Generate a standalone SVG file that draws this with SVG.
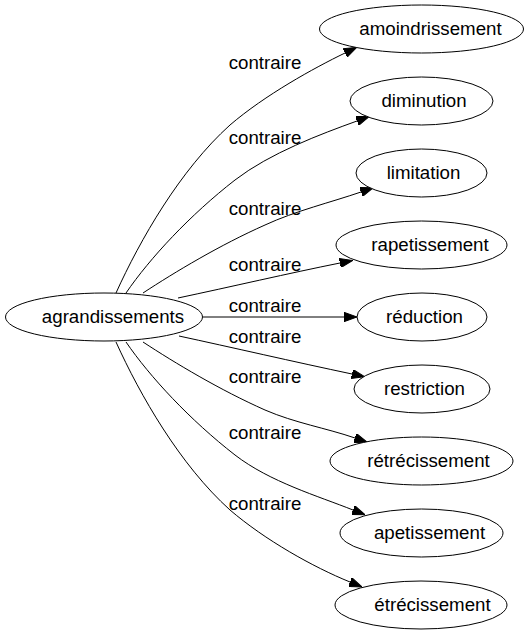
<svg xmlns="http://www.w3.org/2000/svg" width="530" height="635" viewBox="0 0 530 635">
<style>
.node ellipse{fill:#fff;stroke:#000;stroke-width:1}
text{font-family:"Liberation Sans",Arial,sans-serif;font-size:18.7px;fill:#000;text-anchor:middle}
.edge path{fill:none;stroke:#000;stroke-width:1}
</style>
<defs>
<marker id="arr" markerUnits="userSpaceOnUse" viewBox="0 0 13 9.4" markerWidth="13" markerHeight="9.4" refX="0" refY="4.7" orient="auto">
<path d="M0,0 L13,4.7 L0,9.4 z" fill="#000" stroke="#000" stroke-width="1"/>
</marker>
</defs>
<rect width="530" height="635" fill="#fff"/>
<g id="edges" class="edge">
<path marker-end="url(#arr)" d="M116,293 C140,240 180,170 230,125 C265,95 314,68 345,53"/>
<path marker-end="url(#arr)" d="M126,293 C150,258 190,215 235,180 C270,153 321,134 357,121"/>
<path marker-end="url(#arr)" d="M143,293 C175,272 220,245 265,225 C295,211 332,202 361,192"/>
<path marker-end="url(#arr)" d="M178,298 C230,287 290,273 340,263"/>
<path marker-end="url(#arr)" d="M203,317 L344,317"/>
<path marker-end="url(#arr)" d="M179,336 C230,347 295,362 352,374"/>
<path marker-end="url(#arr)" d="M143,342 C175,363 220,390 265,410 C295,423 326,428 355,438"/>
<path marker-end="url(#arr)" d="M126,342 C150,377 190,420 235,455 C270,482 318,496 353,510"/>
<path marker-end="url(#arr)" d="M116,342 C140,395 180,465 230,510 C265,540 313,567 350,582"/>
<text x="265" y="69">contraire</text>
<text x="265" y="144">contraire</text>
<text x="265" y="215">contraire</text>
<text x="265" y="271">contraire</text>
<text x="265" y="312">contraire</text>
<text x="265" y="343">contraire</text>
<text x="265" y="383">contraire</text>
<text x="265" y="439">contraire</text>
<text x="265" y="510">contraire</text>
</g>
<g id="agrandissements" class="node"><ellipse cx="104" cy="317" rx="98.5" ry="24"/><text x="113" y="323">agrandissements</text></g>
<g id="amoindrissement" class="node"><ellipse cx="421.5" cy="29" rx="102" ry="24"/><text x="430.5" y="35">amoindrissement</text></g>
<g id="diminution" class="node"><ellipse cx="421.5" cy="101" rx="71.5" ry="24"/><text x="424" y="107">diminution</text></g>
<g id="limitation" class="node"><ellipse cx="421.5" cy="173" rx="65.5" ry="24"/><text x="423.5" y="179">limitation</text></g>
<g id="rapetissement" class="node"><ellipse cx="421.5" cy="245" rx="85.5" ry="24"/><text x="430" y="251">rapetissement</text></g>
<g id="reduction" class="node"><ellipse cx="422" cy="317" rx="65" ry="24"/><text x="424.5" y="323">réduction</text></g>
<g id="restriction" class="node"><ellipse cx="422" cy="389" rx="68" ry="24"/><text x="424.5" y="395">restriction</text></g>
<g id="retrecissement" class="node"><ellipse cx="421.5" cy="461" rx="91.5" ry="24"/><text x="428.5" y="467">rétrécissement</text></g>
<g id="apetissement" class="node"><ellipse cx="421.5" cy="533" rx="81.5" ry="24"/><text x="429.5" y="539">apetissement</text></g>
<g id="etrecissement" class="node"><ellipse cx="421" cy="605" rx="86" ry="24"/><text x="432.5" y="611">étrécissement</text></g>
</svg>
